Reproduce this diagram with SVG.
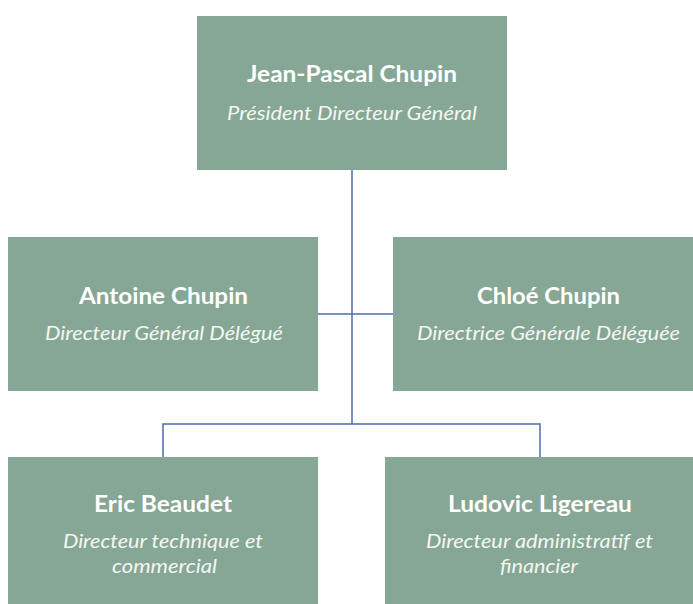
<svg xmlns="http://www.w3.org/2000/svg" width="693" height="604" viewBox="0 0 693 604">
<style>
.box{fill:#86a795;}
.t{font-family:Lato,"Open Sans","Liberation Sans",sans-serif;font-weight:bold;font-size:22px;fill:#ffffff;text-anchor:middle;}
.s{font-family:Lato,"Open Sans","Liberation Sans",sans-serif;font-style:italic;font-size:18.5px;fill:#f4f6f4;text-anchor:middle;}
.c{stroke:#4a6cb3;stroke-width:1.5;fill:none;}
</style>
<rect width="693" height="604" fill="#ffffff"/>
<g id="connectors">
<line class="c" x1="352" y1="170" x2="352" y2="424"/>
<line class="c" x1="318" y1="314" x2="393" y2="314"/>
<polyline class="c" points="163,457 163,424 540,424 540,457"/>
</g>
<g id="jean-pascal">
<rect class="box" x="197" y="16" width="310" height="154"/>
<text class="t" x="352" y="82" textLength="210" lengthAdjust="spacingAndGlyphs">Jean-Pascal Chupin</text>
<text class="s" x="352" y="120" textLength="250" lengthAdjust="spacingAndGlyphs">Président Directeur Général</text>
</g>
<g id="antoine">
<rect class="box" x="8" y="237" width="310" height="154"/>
<text class="t" x="163.5" y="304" textLength="169" lengthAdjust="spacingAndGlyphs">Antoine Chupin</text>
<text class="s" x="164" y="340" textLength="238" lengthAdjust="spacingAndGlyphs">Directeur Général Délégué</text>
</g>
<g id="chloe">
<rect class="box" x="393" y="237" width="311" height="154"/>
<text class="t" x="548.5" y="304" textLength="143" lengthAdjust="spacingAndGlyphs">Chloé Chupin</text>
<text class="s" x="548.5" y="340" textLength="263" lengthAdjust="spacingAndGlyphs">Directrice Générale Déléguée</text>
</g>
<g id="eric">
<rect class="box" x="8" y="457" width="310" height="154"/>
<text class="t" x="163" y="512" textLength="138" lengthAdjust="spacingAndGlyphs">Eric Beaudet</text>
<text class="s" x="163" y="548" textLength="200" lengthAdjust="spacingAndGlyphs">Directeur technique et</text>
<text class="s" x="164.5" y="573" textLength="105" lengthAdjust="spacingAndGlyphs">commercial</text>
</g>
<g id="ludovic">
<rect class="box" x="385" y="457" width="310" height="154"/>
<text class="t" x="540" y="512" textLength="184" lengthAdjust="spacingAndGlyphs">Ludovic Ligereau</text>
<text class="s" x="539.5" y="548" textLength="227" lengthAdjust="spacingAndGlyphs">Directeur administratif et</text>
<text class="s" x="539" y="573" textLength="78" lengthAdjust="spacingAndGlyphs">financier</text>
</g>
</svg>
